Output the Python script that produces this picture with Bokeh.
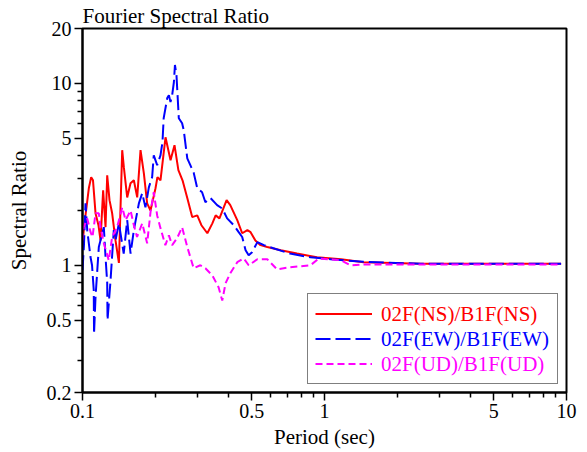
from bokeh.plotting import figure
from bokeh.models import Range1d, FixedTicker, CustomJSTickFormatter, Legend, LegendItem
from bokeh.embed import file_html
from bokeh.resources import INLINE

# ---- data ----
ns_period = [0.1, 0.1012, 0.1029, 0.1062, 0.1086, 0.1105, 0.1132, 0.1164, 0.1187, 0.1217, 0.1245, 0.1265,
             0.1293, 0.1326, 0.1369, 0.1414, 0.1459, 0.1482, 0.153, 0.1579, 0.163, 0.1683, 0.1737, 0.1793,
             0.185, 0.191, 0.2003, 0.204, 0.21, 0.2203, 0.2311, 0.24, 0.249, 0.259, 0.271, 0.284, 0.298,
             0.31, 0.328, 0.344, 0.355, 0.368, 0.394, 0.408, 0.436, 0.457, 0.48, 0.495, 0.518, 0.544,
             0.58, 0.66, 0.77, 0.93, 1.17, 1.45, 2.5, 4.9, 9.5]
ns_ratio = [1.29, 1.56, 1.88, 2.65, 3.05, 2.93, 1.93, 1.66, 1.37, 2.58, 1.62, 3.12, 2.28, 1.93, 1.37, 1.03,
            4.29, 3.46, 2.36, 2.82, 2.93, 2.36, 4.29, 3.2, 2.19, 2.0, 2.65, 3.05, 2.93, 5.05, 3.78, 4.57,
            3.33, 2.93, 2.34, 1.84, 1.88, 1.66, 1.5, 1.7, 1.88, 1.81, 2.28, 2.14, 1.77, 1.5, 1.56, 1.52,
            1.37, 1.29, 1.26, 1.21, 1.16, 1.106, 1.08, 1.04, 1.02, 1.02, 1.02]

ew_period = [0.1, 0.1014, 0.1029, 0.1046, 0.1079, 0.1095, 0.1113, 0.1116, 0.1132, 0.1168, 0.1225, 0.1245,
             0.1265, 0.1269, 0.1306, 0.1347, 0.1369, 0.1414, 0.148, 0.153, 0.158, 0.163, 0.171, 0.1765,
             0.182, 0.188, 0.194, 0.197, 0.2035, 0.21, 0.214, 0.2165, 0.224, 0.2275, 0.231, 0.2347, 0.2385,
             0.241, 0.2445, 0.25, 0.258, 0.262, 0.271, 0.279, 0.288, 0.298, 0.312, 0.322, 0.338, 0.36,
             0.378, 0.396, 0.422, 0.442, 0.457, 0.472, 0.486, 0.502, 0.528, 0.562, 0.615, 0.72, 0.875,
             1.06, 1.45, 2.5, 9.5]
ew_ratio = [0.94, 1.29, 2.19, 1.56, 1.11, 1.0, 0.73, 0.42, 0.67, 1.26, 1.62, 1.11, 0.8, 0.5, 0.83, 1.56,
            1.37, 1.7, 1.16, 1.77, 1.16, 1.56, 2.19, 2.49, 2.08, 2.68, 3.05, 4.02, 3.55, 4.02, 4.74, 6.43,
            8.3, 8.61, 7.88, 8.61, 10.1, 12.6, 11.1, 6.43, 6.03, 5.53, 3.87, 3.55, 3.23, 2.65, 2.52, 2.22,
            2.34, 2.14, 2.05, 1.81, 1.66, 1.52, 1.43, 1.21, 1.135, 1.18, 1.34, 1.29, 1.24, 1.16, 1.106,
            1.08, 1.045, 1.02, 1.02]

ud_period = [0.1, 0.1012, 0.1046, 0.108, 0.11, 0.1132, 0.1168, 0.1187, 0.1225, 0.1284, 0.1326, 0.139,
             0.146, 0.1506, 0.158, 0.163, 0.168, 0.1765, 0.185, 0.191, 0.197, 0.2035, 0.21, 0.22, 0.2275,
             0.2347, 0.246, 0.258, 0.271, 0.288, 0.307, 0.322, 0.344, 0.365, 0.378, 0.39, 0.408, 0.436,
             0.464, 0.486, 0.528, 0.58, 0.637, 0.72, 0.875, 0.947, 1.17, 1.28, 1.45, 1.81, 9.5]
ud_ratio = [1.37, 1.62, 1.81, 1.52, 1.43, 1.93, 1.93, 1.62, 1.32, 1.065, 1.43, 1.62, 2.08, 1.77, 2.0, 1.66,
            1.43, 1.7, 1.32, 1.96, 2.52, 1.88, 1.6, 1.29, 1.46, 1.29, 1.41, 1.62, 1.26, 0.963, 1.0, 0.963,
            0.88, 0.757, 0.64, 0.796, 0.904, 1.04, 1.09, 1.0, 1.08, 1.08, 0.95, 0.975, 1.0, 1.09, 1.065,
            1.0, 1.01, 1.01, 1.01]

series_labels = ["02F(NS)/B1F(NS)", "02F(EW)/B1F(EW)", "02F(UD)/B1F(UD)"]
series_colors = ["#ff0000", "#0000ff", "#ff00ff"]
series_dash = ["solid", "15 5", "7 4"]

x_major = [0.1, 0.5, 1, 5, 10]
x_minor = [0.2, 0.3, 0.4, 0.6, 0.7, 0.8, 0.9, 2, 3, 4, 6, 7, 8, 9]
y_major = [0.2, 0.5, 1, 5, 10, 20]
y_minor = [0.3, 0.4, 0.6, 0.7, 0.8, 0.9, 2, 3, 4, 6, 7, 8, 9]

FONT = "'Liberation Serif'"

p = figure(width=587, height=452, x_axis_type="log", y_axis_type="log",
           x_range=Range1d(0.1, 10), y_range=Range1d(0.2, 20),
           title="Fourier Spectral Ratio",
           output_backend="svg", toolbar_location=None,
           min_border_left=82, min_border_right=21, min_border_top=28, min_border_bottom=60)
p.title.text_font = FONT
p.title.text_font_size = "21px"
p.title.text_font_style = "normal"
p.title.text_color = "black"
p.title.align = "left"
p.title.offset = 0
p.title.standoff = 2
p.grid.visible = False
p.background_fill_color = "white"
p.outline_line_color = "black"
p.outline_line_width = 2
p.outline_line_alpha = 1

p.xaxis.ticker = FixedTicker(ticks=x_major, minor_ticks=x_minor)
p.yaxis.ticker = FixedTicker(ticks=y_major, minor_ticks=y_minor)
fmt = CustomJSTickFormatter(code="return tick.toString();")
p.xaxis.formatter = fmt
p.yaxis.formatter = fmt

for ax in (p.xaxis[0], p.yaxis[0]):
    ax.major_label_text_font = FONT
    ax.major_label_text_font_size = "20px"
    ax.major_label_text_color = "black"
    ax.axis_line_width = 2
    ax.axis_line_color = "black"
    ax.major_tick_line_width = 1.5
    ax.minor_tick_line_width = 1.5
    ax.major_tick_line_color = "black"
    ax.minor_tick_line_color = "black"
    ax.major_tick_out = 8
    ax.major_tick_in = 0
    ax.minor_tick_out = 5
    ax.minor_tick_in = 0
    ax.major_label_standoff = 3
    ax.axis_label_text_font = FONT
    ax.axis_label_text_font_size = "21px"
    ax.axis_label_text_font_style = "normal"
    ax.axis_label_text_color = "black"

p.yaxis.axis_label = "Spectral Ratio"
p.yaxis.axis_label_standoff = 13
p.xaxis.axis_label = "Period (sec)"
p.xaxis.axis_label_standoff = 4

r_ns = p.line(ns_period, ns_ratio, line_color=series_colors[0], line_width=2, line_dash=series_dash[0])
r_ew = p.line(ew_period, ew_ratio, line_color=series_colors[1], line_width=2, line_dash=series_dash[1])
r_ud = p.line(ud_period, ud_ratio, line_color=series_colors[2], line_width=2, line_dash=series_dash[2])

common = dict(padding=7, spacing=0, glyph_width=57, glyph_height=25, label_height=25,
              label_standoff=10, label_text_font=FONT, label_text_font_size="21px", margin=0)

leg_box = Legend(items=[LegendItem(label=series_labels[0], renderers=[r_ns]),
                        LegendItem(label=series_labels[1], renderers=[r_ew]),
                        LegendItem(label=series_labels[2], renderers=[r_ud])],
                 location=(225, 8), border_line_color="black", border_line_width=1.5,
                 background_fill_color="white", background_fill_alpha=1,
                 label_text_alpha=0, **common)
p.add_layout(leg_box)

offsets = [58, 33, 8]
for lbl, col, off in zip(series_labels, series_colors, offsets):
    dummy = p.line([], [], line_alpha=0)
    lg = Legend(items=[LegendItem(label=lbl, renderers=[dummy])], location=(225, off),
                border_line_alpha=0, background_fill_alpha=0, label_text_color=col, **common)
    p.add_layout(lg)

open("out.html", "w").write(file_html(p, INLINE))
